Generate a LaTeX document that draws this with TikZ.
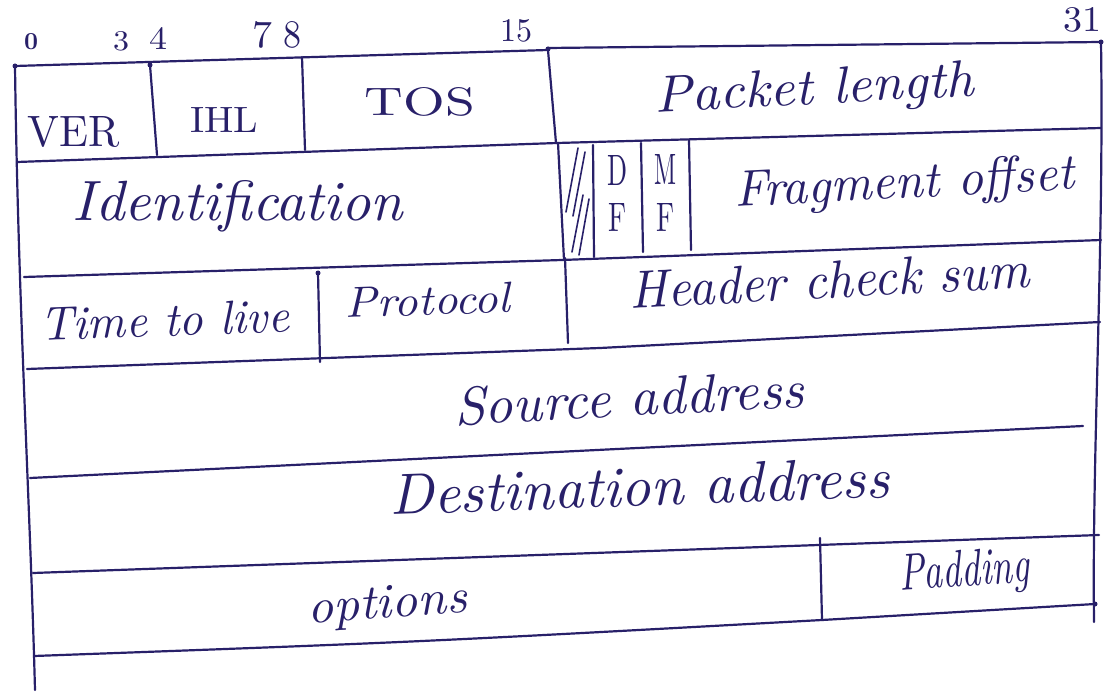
\documentclass[tikz,border=0pt]{standalone}
\usepackage{graphicx}
\definecolor{ink}{RGB}{40,32,105}
\tikzset{
  pen/.style={draw=ink, line width=2.2pt, line cap=round, line join=round},
  thinpen/.style={draw=ink, line width=1.6pt, line cap=round},
  lbl/.style={text=ink, inner sep=0pt, anchor=base},
  blob/.style={fill=ink, circle, inner sep=0pt, minimum size=5pt},
}
% \hw{width}{height above baseline}{text}
\newcommand{\hw}[3]{\resizebox{#1pt}{#2pt}{#3}}
\begin{document}
\begin{tikzpicture}[x=1pt,y=-1pt]
\useasboundingbox (0,0) rectangle (1105,692);
% outer verticals
\draw[pen] (15,66) .. controls (18,300) and (30,500) .. (35,690);
\draw[pen] (1101,42) .. controls (1104,250) and (1092,450) .. (1094,622);
% top lines
\draw[pen] (15,66) -- (548,50);
\draw[pen] (548,48) -- (1101,42);
% row lines
\draw[pen] (17,162) -- (557,143) -- (1101,128);
\draw[pen] (24,277) -- (562,260) -- (1101,240);
\draw[pen] (27,369) -- (600,348) -- (1100,322);
\draw[pen] (30,478) -- (1083,426);
\draw[pen] (33,573) -- (1099,535);
\draw[pen] (34,656) .. controls (420,642) .. (822,620) -- (1095,604);
% field separators
\draw[pen] (150,65) -- (157,155);
\draw[pen] (302,57) -- (305,150);
\draw[pen] (548,50) -- (556,143);
\draw[pen] (558,143) -- (564,260);
\draw[pen] (565,258) -- (568,343);
\draw[pen] (593,145) -- (594,257);
\draw[pen] (641,143) -- (643,252);
\draw[pen] (689,140) -- (691,250);
\draw[pen] (318,273) -- (320,362);
\draw[pen] (820,538) -- (822,620);
% hatching (reserved bit)
\draw[thinpen] (578,148) -- (566,212);
\draw[thinpen] (585,152) -- (573,216);
\draw[thinpen] (583,195) -- (572,252);
\draw[thinpen] (589,199) -- (579,255);
% pen blobs
\node[blob] (b1) at (15,66) {};
\node[blob] (b2) at (548,49) {};
\node[blob] (b3) at (1101,42) {};
\node[blob] (b4) at (150,65) {};
\node[blob] (b5) at (318,273) {};
\node[blob] (b6) at (1095,604) {};
% bit numbers
\node[lbl] (n0) at (31,50) {\hw{14}{16}{\bfseries 0}};
\node[lbl] (n3) at (121,51) {\hw{16}{19}{3}};
\node[lbl] (n4) at (158,50) {\hw{18}{22}{4}};
\node[lbl] (n7) at (262,48) {\hw{20}{26}{7}};
\node[lbl] (n8) at (292,48) {\hw{18}{26}{8}};
\node[lbl] (n15) at (516,42) {\hw{32}{22}{15}};
\node[lbl] (n31) at (1082,32) {\hw{38}{24}{31}};
% field labels
\node[lbl] (ver) at (74,147) {\hw{92}{30}{VER}};
\node[lbl] (ihl) at (224,133) {\hw{68}{25}{IHL}};
\node[lbl] (tos) at (420,116) {\hw{110}{28}{TOS}};
\node[lbl,rotate=3] (plen) at (815,104) {\hw{320}{36}{\itshape Packet length}};
\node[lbl] (ident) at (238,221) {\hw{330}{40}{\itshape Identification}};
\node[lbl] (d) at (617,186) {\hw{20}{30}{D}};
\node[lbl] (f1) at (617,232) {\hw{18}{28}{F}};
\node[lbl] (m) at (665,185) {\hw{22}{30}{M}};
\node[lbl] (f2) at (665,232) {\hw{18}{28}{F}};
\node[lbl,rotate=3] (frag) at (905,198) {\hw{340}{36}{\itshape Fragment offset}};
\node[lbl,rotate=2] (ttl) at (165,336) {\hw{250}{33}{\itshape Time to live}};
\node[lbl,rotate=2] (proto) at (428,315) {\hw{165}{30}{\itshape Protocol}};
\node[lbl,rotate=3] (hcs) at (830,298) {\hw{400}{37}{\itshape Header check sum}};
\node[lbl,rotate=3] (src) at (630,416) {\hw{350}{38}{\itshape Source address}};
\node[lbl,rotate=2] (dst) at (640,506) {\hw{500}{40}{\itshape Destination address}};
\node[lbl,rotate=4] (opt) at (388,618) {\hw{160}{32}{\itshape options}};
\node[lbl,rotate=4] (pad) at (965,586) {\hw{130}{36}{\itshape Padding}};
\end{tikzpicture}
\end{document}
